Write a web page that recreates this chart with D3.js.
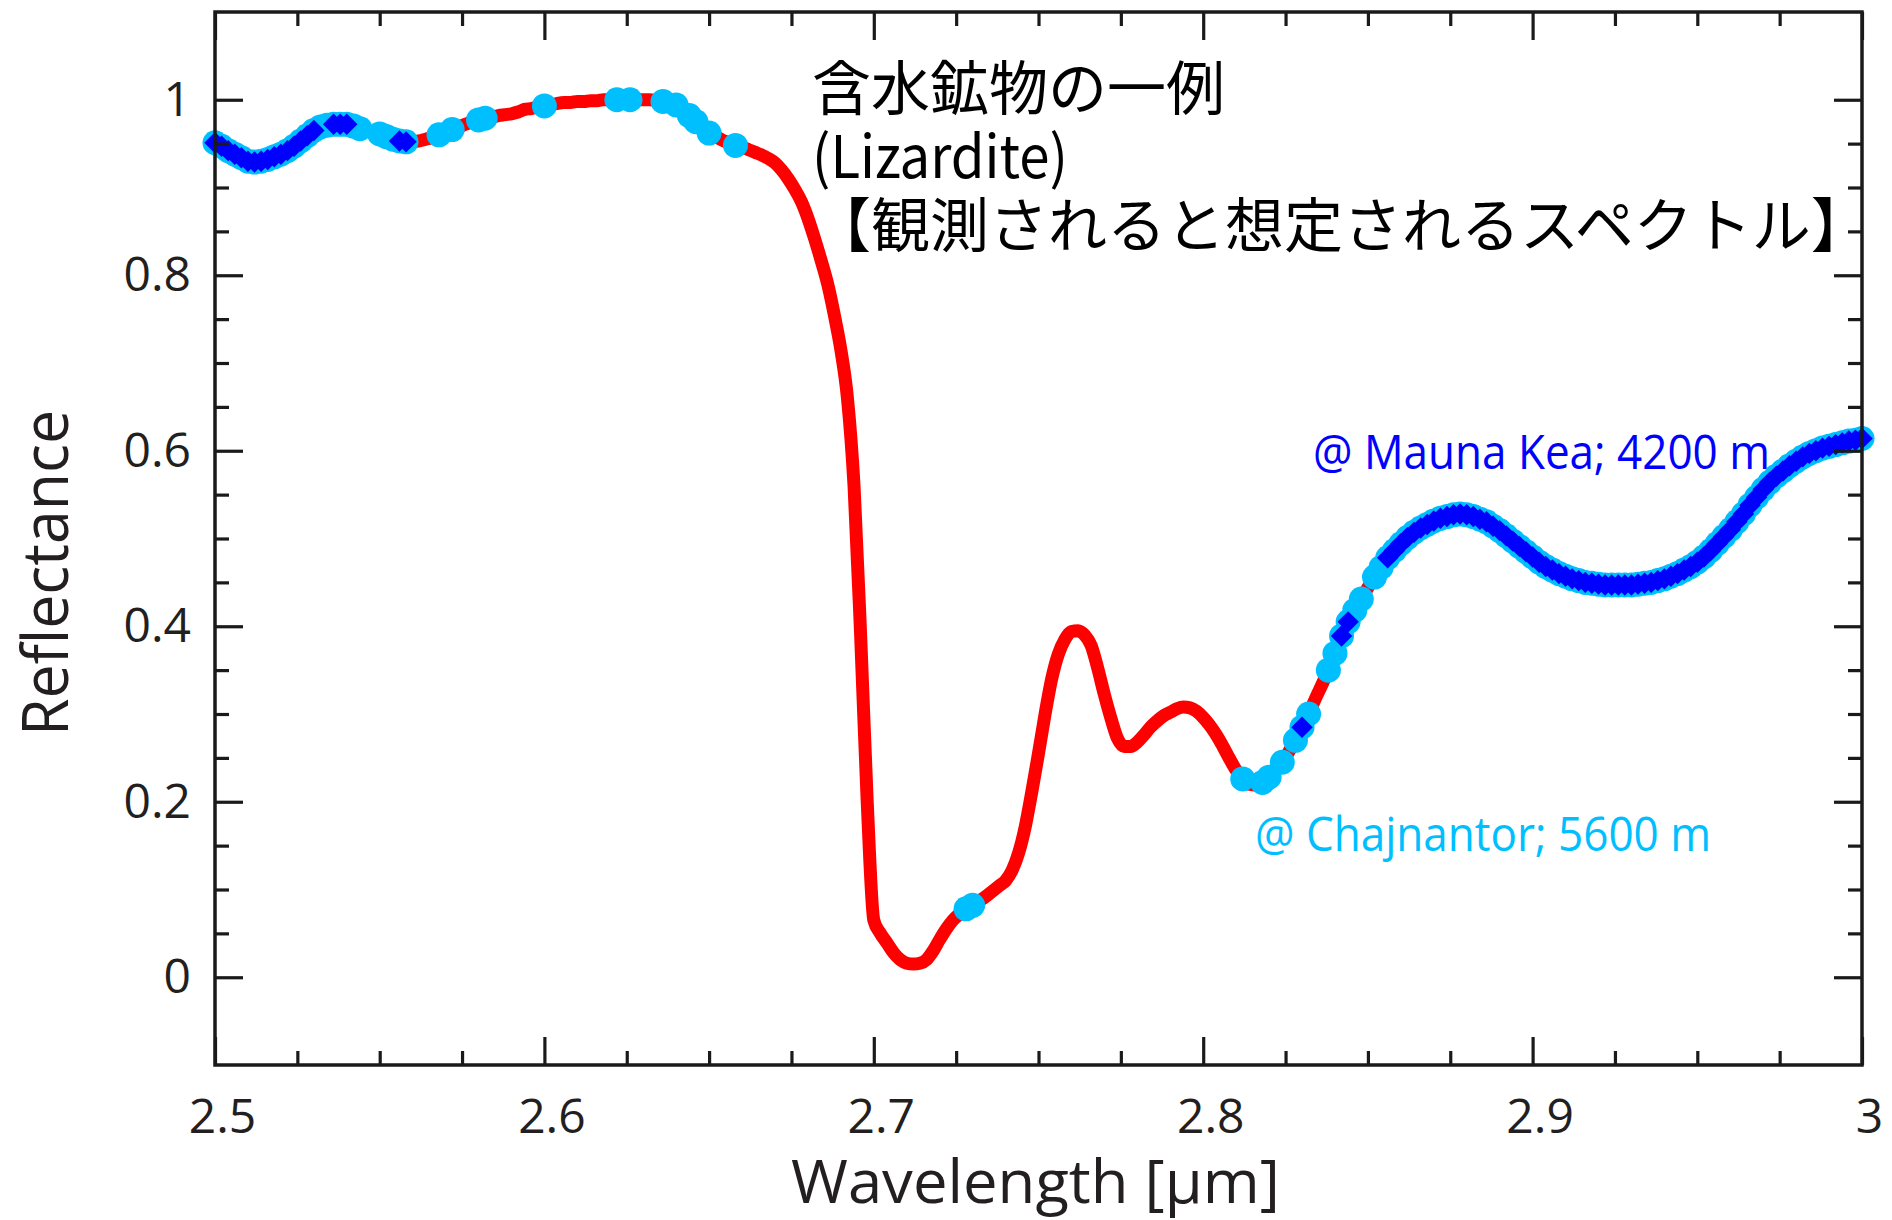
<!DOCTYPE html>
<html><head><meta charset="utf-8">
<script src="https://cdn.jsdelivr.net/npm/d3@7"></script>
<style>html,body{margin:0;padding:0;background:#fff;} svg{display:block;}</style>
</head><body>
<svg id="chart" width="1892" height="1220"></svg>
<script>
// ---------- DATA ----------
const wlStart = 2.5, wlStep = 0.002;   // wavelength grid [µm]
const reflectance = [
0.951,0.947,0.942,0.938,0.934,0.930,0.929,0.930,0.932,0.935,
0.938,0.942,0.947,0.953,0.959,0.965,0.969,0.971,0.972,0.972,
0.972,0.970,0.967,0.965,0.963,0.961,0.958,0.955,0.953,0.952,
0.952,0.953,0.955,0.957,0.960,0.963,0.966,0.969,0.972,0.975,
0.977,0.979,0.980,0.982,0.983,0.984,0.986,0.989,0.990,0.992,
0.993,0.994,0.996,0.997,0.997,0.998,0.998,0.999,0.999,1.000,
1.000,1.000,1.000,1.000,1.000,1.000,1.000,0.999,0.998,0.996,
0.994,0.988,0.982,0.975,0.968,0.962,0.958,0.954,0.951,0.948,
0.946,0.943,0.940,0.937,0.933,0.928,0.920,0.910,0.898,0.884,
0.865,0.842,0.817,0.790,0.755,0.715,0.660,0.560,0.390,0.200,
0.065,0.050,0.039,0.028,0.020,0.016,0.015,0.016,0.020,0.030,
0.043,0.055,0.065,0.072,0.078,0.082,0.087,0.092,0.098,0.104,
0.110,0.122,0.142,0.172,0.212,0.255,0.300,0.340,0.368,0.385,
0.394,0.395,0.390,0.378,0.352,0.322,0.295,0.272,0.263,0.263,
0.268,0.276,0.285,0.292,0.298,0.302,0.306,0.308,0.307,0.303,
0.296,0.287,0.276,0.263,0.249,0.236,0.226,0.220,0.219,0.222,
0.228,0.236,0.245,0.257,0.270,0.285,0.300,0.317,0.333,0.350,
0.369,0.389,0.405,0.418,0.431,0.444,0.456,0.467,0.478,0.486,
0.494,0.501,0.507,0.512,0.516,0.520,0.523,0.525,0.527,0.528,
0.527,0.525,0.522,0.519,0.514,0.509,0.503,0.497,0.491,0.485,
0.479,0.473,0.468,0.464,0.460,0.457,0.454,0.452,0.450,0.449,
0.448,0.447,0.447,0.447,0.447,0.447,0.448,0.449,0.450,0.452,
0.454,0.457,0.460,0.464,0.468,0.473,0.479,0.486,0.494,0.502,
0.510,0.519,0.528,0.538,0.547,0.556,0.564,0.571,0.577,0.583,
0.588,0.593,0.597,0.600,0.603,0.605,0.607,0.609,0.611,0.612,
0.614];
// wavelength ranges [µm] observable from each site
const chajnantorRanges = [[2.500,2.544],[2.550,2.558],[2.568,2.568],[2.572,2.572],[2.580,2.582],
  [2.600,2.600],[2.622,2.622],[2.626,2.626],[2.636,2.636],[2.640,2.640],[2.644,2.646],[2.650,2.650],
  [2.658,2.658],[2.728,2.730],[2.812,2.812],[2.818,2.820],[2.824,2.824],[2.828,2.832],[2.838,2.848],
  [2.852,3.000]];
const maunaKeaRanges = [[2.500,2.530],[2.536,2.540],[2.556,2.558],[2.830,2.830],[2.842,2.844],[2.856,3.000]];
const xMajorTicks = [2.5,2.6,2.7,2.8,2.9,3.0];
const xTickLabels = ["2.5","2.6","2.7","2.8","2.9","3"];
const yMajorTicks = [0,0.2,0.4,0.6,0.8,1.0];
const yTickLabels = ["0","0.2","0.4","0.6","0.8","1"];
const annotationLines = ["含水鉱物の一例","(Lizardite)","【観測されると想定されるスペクトル】"];
const maunaKeaLabel = "@ Mauna Kea; 4200 m";
const chajnantorLabel = "@ Chajnantor; 5600 m";
const xTitle = "Wavelength [μm]";
const yTitle = "Reflectance";

// ---------- CHART ----------
const svg = d3.select("#chart");
const L = 215, R = 1862, T = 12, B = 1065;
const x = d3.scaleLinear().domain([2.5, 3.0]).range([L, R]);
const y = d3.scaleLinear().domain([-0.1, 1.1]).range([B, T]);

const spectrum = reflectance.map((v, i) => ({w: +(wlStart + i * wlStep).toFixed(3), v}));
const inRanges = (w, ranges) => ranges.some(([a, b]) => w >= a - 1e-6 && w <= b + 1e-6);
const chaj = spectrum.filter(d => inRanges(d.w, chajnantorRanges));
const mk = spectrum.filter(d => inRanges(d.w, maunaKeaRanges));

const plot = svg.append("g");
plot.append("path").datum(spectrum)
  .attr("fill", "none").attr("stroke", "#ff0000").attr("stroke-width", 13)
  .attr("stroke-linejoin", "round").attr("stroke-linecap", "round")
  .attr("d", d3.line().x(d => x(d.w)).y(d => y(d.v)).curve(d3.curveMonotoneX));

plot.append("g").selectAll("circle").data(chaj).join("circle")
  .attr("cx", d => x(d.w)).attr("cy", d => y(d.v)).attr("r", 12.5)
  .attr("fill", "#00bfff");

const diamond = d3.symbol().type(d3.symbolSquare).size(230);
plot.append("g").selectAll("path").data(mk).join("path")
  .attr("d", diamond)
  .attr("transform", d => `translate(${x(d.w)},${y(d.v)}) rotate(45)`)
  .attr("fill", "#0000ff");

// axes
const xMinor = d3.range(0, 21).map(i => 2.5 + i * 0.025).filter(v => Math.abs(v*10 - Math.round(v*10)) > 1e-6);
const yMinor = d3.range(0, 21).map(i => i * 0.05).filter(v => Math.abs(v*5 - Math.round(v*5)) > 1e-6);
const tickCol = "#1a1a1a";
function styleAxis(g) {
  g.select(".domain").remove();
  g.selectAll(".tick line").attr("stroke", tickCol).attr("stroke-width", 3.2);
  g.selectAll(".tick text").attr("fill", "#231f20")
    .style("font-family", "'Open Sans', 'Noto Sans', sans-serif").style("font-size", "48px");
}
const noText = g => g.selectAll(".tick text").remove();
svg.append("g").attr("transform", `translate(0,${B})`)
  .call(d3.axisBottom(x).tickValues(xMajorTicks).tickFormat((d, i) => xTickLabels[i]).tickSizeInner(-28).tickSizeOuter(0).tickPadding(34))
  .call(styleAxis).call(g => g.selectAll(".tick text").attr("dx", 7));
svg.append("g").attr("transform", `translate(0,${B})`)
  .call(d3.axisBottom(x).tickValues(xMinor).tickSizeInner(-14).tickSizeOuter(0)).call(styleAxis).call(noText);
svg.append("g").attr("transform", `translate(0,${T})`)
  .call(d3.axisTop(x).tickValues(xMajorTicks).tickSizeInner(-28).tickSizeOuter(0)).call(styleAxis).call(noText);
svg.append("g").attr("transform", `translate(0,${T})`)
  .call(d3.axisTop(x).tickValues(xMinor).tickSizeInner(-14).tickSizeOuter(0)).call(styleAxis).call(noText);
svg.append("g").attr("transform", `translate(${L},0)`)
  .call(d3.axisLeft(y).tickValues(yMajorTicks).tickFormat((d, i) => yTickLabels[i]).tickSizeInner(-28).tickSizeOuter(0).tickPadding(24))
  .call(styleAxis);
svg.append("g").attr("transform", `translate(${L},0)`)
  .call(d3.axisLeft(y).tickValues(yMinor).tickSizeInner(-14).tickSizeOuter(0)).call(styleAxis).call(noText);
svg.append("g").attr("transform", `translate(${R},0)`)
  .call(d3.axisRight(y).tickValues(yMajorTicks).tickSizeInner(-28).tickSizeOuter(0)).call(styleAxis).call(noText);
svg.append("g").attr("transform", `translate(${R},0)`)
  .call(d3.axisRight(y).tickValues(yMinor).tickSizeInner(-14).tickSizeOuter(0)).call(styleAxis).call(noText);

// frame
svg.append("rect").attr("x", L).attr("y", T).attr("width", R - L).attr("height", B - T)
  .attr("fill", "none").attr("stroke", tickCol).attr("stroke-width", 3.5);

// titles
svg.append("text").attr("x", (L + R) / 2 - 3).attr("y", 1203).attr("text-anchor", "middle")
  .attr("fill", "#231f20").style("font-family", "'Open Sans', sans-serif").style("font-size", "60px")
  .attr("textLength", 489).attr("lengthAdjust", "spacingAndGlyphs").text(xTitle);
svg.append("text").attr("transform", "translate(68,573) rotate(-90)").attr("text-anchor", "middle")
  .attr("fill", "#231f20").style("font-family", "'Open Sans', sans-serif").style("font-size", "64px")
  .attr("textLength", 326).attr("lengthAdjust", "spacingAndGlyphs").text(yTitle);

// annotation (three separate lines)
const annY = [110, 178, 247];
const annLen = [null, 256, null];
annotationLines.forEach((t, i) => {
  const tx = svg.append("text").attr("x", 812).attr("y", annY[i]).attr("fill", "#000")
    .style("font-family", "'Noto Sans CJK JP', sans-serif").style("font-size", "59px").text(t);
  if (annLen[i]) tx.attr("textLength", annLen[i]).attr("lengthAdjust", "spacingAndGlyphs");
});

// site labels
svg.append("text").attr("x", 1313).attr("y", 469).attr("fill", "#0000ff")
  .style("font-family", "'Open Sans', sans-serif").style("font-size", "48px")
  .attr("textLength", 457).attr("lengthAdjust", "spacingAndGlyphs").text(maunaKeaLabel);
svg.append("text").attr("x", 1255).attr("y", 851).attr("fill", "#00bfff")
  .style("font-family", "'Open Sans', sans-serif").style("font-size", "48px")
  .attr("textLength", 456).attr("lengthAdjust", "spacingAndGlyphs").text(chajnantorLabel);
</script>
</body></html>
